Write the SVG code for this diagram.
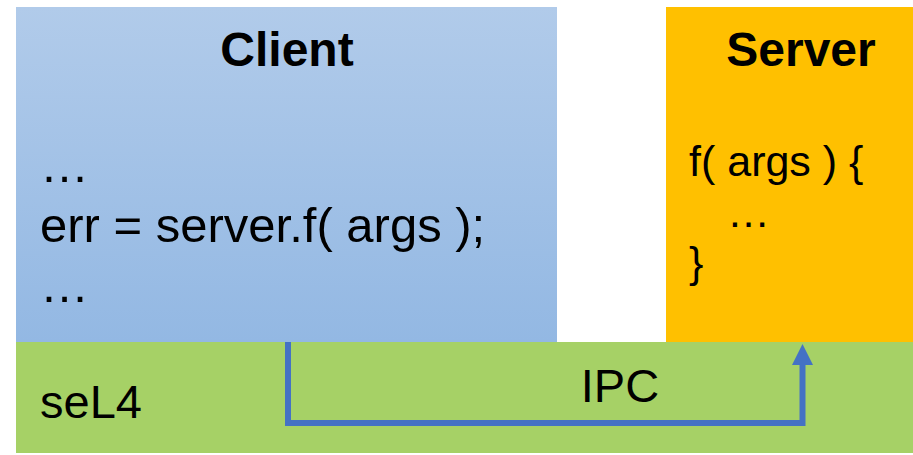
<svg xmlns="http://www.w3.org/2000/svg" width="913" height="455" viewBox="0 0 913 455">
<style>
text{font-family:"Liberation Sans",Arial,sans-serif;fill:#000}
.title{font-weight:bold;font-size:48px;text-anchor:middle}
.code{font-size:49px}
.label{font-size:47px}
.scode{font-size:43px}
.conn{fill:none;stroke:#4472C4;stroke-width:6}
.head{fill:#4472C4}
</style>
<defs>
<linearGradient id="cg" x1="0" y1="0" x2="0" y2="1">
<stop offset="0" stop-color="#B1CBEA"/>
<stop offset="1" stop-color="#93B8E3"/>
</linearGradient>
</defs>
<g id="sel4">
<rect x="16" y="342" width="897" height="111" fill="#A6D166"/>
<text class="label" x="40" y="418">seL4</text>
</g>
<g id="client">
<rect x="16" y="7" width="541" height="335" fill="url(#cg)"/>
<text class="title" x="287" y="66">Client</text>
<text class="code" x="40" y="182">…</text>
<text class="code" x="40" y="242">err = server.f( args );</text>
<text class="code" x="40" y="302">…</text>
</g>
<g id="server">
<rect x="666" y="7" width="247" height="335" fill="#FFC000"/>
<text class="title" x="801" y="66">Server</text>
<text class="scode" x="689" y="176">f( args ) {</text>
<text class="scode" x="727" y="227">…</text>
<text class="scode" x="689" y="277">}</text>
</g>
<g id="connectors">
<path class="conn" d="M288,342 V423 H802.5 V364"/>
<path class="head" d="M792,365 L802.5,344 L813,365 Z"/>
<text class="label" x="620" y="402" text-anchor="middle">IPC</text>
</g>
</svg>
